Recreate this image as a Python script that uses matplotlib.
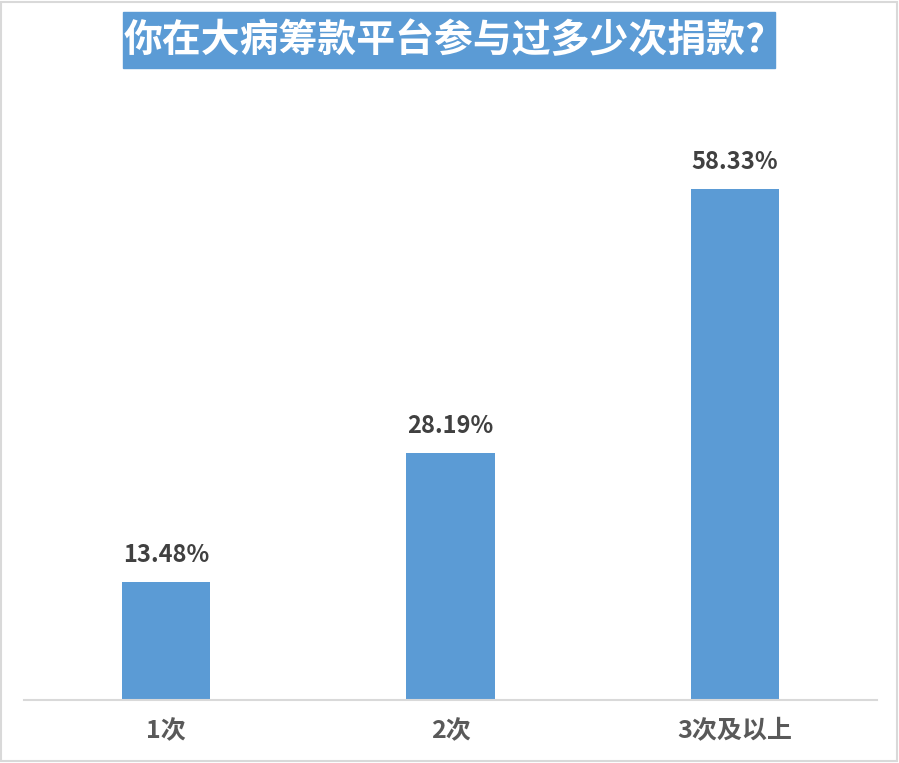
import matplotlib.pyplot as plt
from matplotlib.patches import Rectangle

plt.rcParams['font.family'] = ['Noto Sans CJK SC', 'DejaVu Sans']

# Data
categories = ['1次', '2次', '3次及以上']
values = [13.48, 28.19, 58.33]
title = '你在大病筹款平台参与过多少次捐款?'

bar_color = '#5B9BD5'

fig = plt.figure(figsize=(8.99, 7.63), dpi=100)
ax = fig.add_axes([24 / 899, 63 / 763, 853 / 899, 613 / 763])

x = range(len(categories))
bars = ax.bar(x, values, width=0.31, color=bar_color)

for b, v in zip(bars, values):
    ax.annotate(f'{v:.2f}%', (b.get_x() + b.get_width() / 2, v),
                xytext=(0, 11), textcoords='offset points',
                ha='center', va='bottom', fontsize=17, fontweight='bold',
                color='#404040')

ax.set_xlim(-0.5, 2.5)
ax.set_ylim(0, 70)
ax.set_xticks(list(x))
ax.set_xticklabels(categories, fontsize=18, fontweight='bold', color='#595959')
ax.tick_params(axis='x', length=0, pad=14)
ax.set_yticks([])
for s in ['top', 'left', 'right']:
    ax.spines[s].set_visible(False)
ax.spines['bottom'].set_color('#D9D9D9')
ax.spines['bottom'].set_linewidth(1.5)

# title box
fig.patches.append(Rectangle((123 / 899, 1 - 68 / 763), 652 / 899, 56 / 763,
                             transform=fig.transFigure, color=bar_color, zorder=0))
fig.text(445 / 899, 1 - 41 / 763, title, ha='center', va='center',
         fontsize=28, fontweight='bold', color='white')

# outer border
fig.patches.append(Rectangle((0.001, 0.002), 0.997, 0.996, transform=fig.transFigure,
                             fill=False, edgecolor='#D9D9D9', linewidth=1.5))

fig.savefig('out.png', dpi=100)
